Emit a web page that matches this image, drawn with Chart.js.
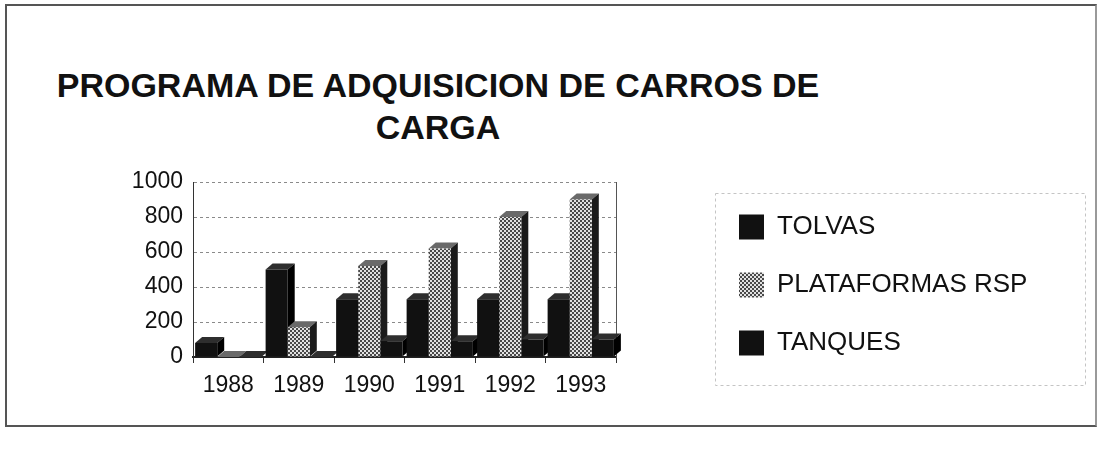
<!DOCTYPE html>
<html>
<head>
<meta charset="utf-8">
<script src="https://cdn.jsdelivr.net/npm/chart.js@4"></script>
<style>
  html, body { margin: 0; padding: 0; background: #fff; }
  #wrap { position: relative; width: 1100px; height: 451px; }
  #frame { position: absolute; left: 5px; top: 4px; width: 1088px; height: 419px;
           border: 2px solid #555; border-right-color: #999; }
  #title { position: absolute; left: 0; top: 64px; width: 876px; text-align: center;
           font: bold 34px 'Liberation Sans', Arial, sans-serif; line-height: 42px; color: #111; }
  canvas { position: absolute; left: 0; top: 0; }
</style>
</head>
<body>
<div id="wrap">
  <div id="frame"></div>
  <div id="title">PROGRAMA DE ADQUISICION DE CARROS DE<br>CARGA</div>
  <canvas id="chart" width="1100" height="451"></canvas>
</div>
<script>
const years = ['1988', '1989', '1990', '1991', '1992', '1993'];
const tolvas = [80, 500, 330, 330, 330, 330];
const plataformas = [0, 170, 520, 620, 800, 900];
const tanques = [0, 0, 90, 90, 100, 100];
const yTicks = [0, 200, 400, 600, 800, 1000];

// checker pattern for PLATAFORMAS RSP
function makePattern() {
    const p = document.createElement('canvas');
    p.width = 4; p.height = 4;
    const pc = p.getContext('2d');
    pc.fillStyle = '#e2e2e2';
    pc.fillRect(0, 0, 4, 4);
    pc.fillStyle = '#4a4a4a';
    pc.fillRect(0, 0, 2, 2);
    pc.fillRect(2, 2, 2, 2);
    return document.getElementById('chart').getContext('2d').createPattern(p, 'repeat');
}

const dx = 7, dy = -6;
const faceColors = [
    { top: '#2e2e2e', side: '#000' },
    { top: '#6a6a6a', side: '#1a1a1a' },
    { top: '#2e2e2e', side: '#000' }
];

// top and side faces, drawn before the front faces
const bars3d = {
    id: 'bars3d',
    beforeDatasetsDraw(chart) {
        const ctx = chart.ctx;
        const metas = chart.getSortedVisibleDatasetMetas().slice().sort((a, b) => a.index - b.index);
        ctx.save();
        for (let i = 0; i < chart.data.labels.length; i++) {
            metas.forEach(meta => {
                const el = meta.data[i];
                const { x, y, base, width } = el.getProps(['x', 'y', 'base', 'width'], true);
                const l = x - width / 2, r = x + width / 2;
                const f = faceColors[meta.index];
                ctx.fillStyle = f.top;
                ctx.beginPath();
                ctx.moveTo(l, y); ctx.lineTo(l + dx, y + dy); ctx.lineTo(r + dx, y + dy); ctx.lineTo(r, y);
                ctx.closePath(); ctx.fill();
                ctx.fillStyle = f.side;
                ctx.beginPath();
                ctx.moveTo(r, y); ctx.lineTo(r + dx, y + dy); ctx.lineTo(r + dx, base + dy); ctx.lineTo(r, base);
                ctx.closePath(); ctx.fill();
            });
        }
        ctx.restore();
    }
};

// wider legend box than the layout would allow, plus a faint dashed frame
const legendBox = {
    id: 'legendBox',
    beforeInit(chart) {
        const lg = chart.legend;
        const fit = lg.fit;
        lg.fit = function() {
            fit.call(this);
            this.width = 358;
        };
    },
    afterDraw(chart) {
        const lg = chart.legend;
        const ctx = chart.ctx;
        ctx.save();
        ctx.strokeStyle = '#c4c4c4';
        ctx.lineWidth = 1;
        ctx.setLineDash([3, 3]);
        ctx.strokeRect(lg.left + 8.5, 193.5, 370, 192);
        ctx.restore();
    }
};

new Chart(document.getElementById('chart'), {
    type: 'bar',
    data: {
        labels: years,
        datasets: [{
            label: 'TOLVAS',
            data: tolvas,
            backgroundColor: '#111'
        }, {
            label: 'PLATAFORMAS RSP',
            data: plataformas,
            backgroundColor: makePattern()
        }, {
            label: 'TANQUES',
            data: tanques,
            backgroundColor: '#111'
        }]
    },
    options: {
        responsive: false,
        animation: false,
        datasets: {
            bar: { barPercentage: 1, categoryPercentage: 0.94, borderWidth: 0 }
        },
        layout: { padding: { left: 100, top: 182, right: 35, bottom: 50 } },
        scales: {
            x: {
                grid: { drawOnChartArea: false, drawTicks: true, tickLength: 6, color: '#333' },
                border: { display: true, color: '#222', width: 2 },
                ticks: { color: '#111', padding: 9, font: { family: "'Liberation Sans', Arial", size: 23 } },
                afterFit(s) { s.height = 44; }
            },
            y: {
                min: 0,
                max: 1000,
                afterBuildTicks(s) { s.ticks = yTicks.map(v => ({ value: v })); },
                grid: { color: '#8a8a8a', borderDash: [4, 3], drawTicks: false },
                border: { display: true, color: '#333', dash: [3, 3] },
                ticks: {
                    color: '#111', padding: 10,
                    font: { family: "'Liberation Sans', Arial", size: 23 },
                    callback: v => String(v)
                },
                afterFit(s) { s.width = 93; }
            },
            y2: {
                position: 'right',
                grid: { display: false },
                ticks: { display: false },
                border: { display: true, color: '#555', dash: [3, 3] },
                afterFit(s) { s.width = 91; }
            }
        },
        plugins: {
            legend: {
                position: 'right',
                align: 'start',
                labels: {
                    boxWidth: 25,
                    boxHeight: 25,
                    padding: 32,
                    color: '#111',
                    font: { family: "'Liberation Sans', Arial", size: 26 }
                }
            },
            tooltip: { enabled: false }
        }
    },
    plugins: [bars3d, legendBox]
});
</script>
</body>
</html>
